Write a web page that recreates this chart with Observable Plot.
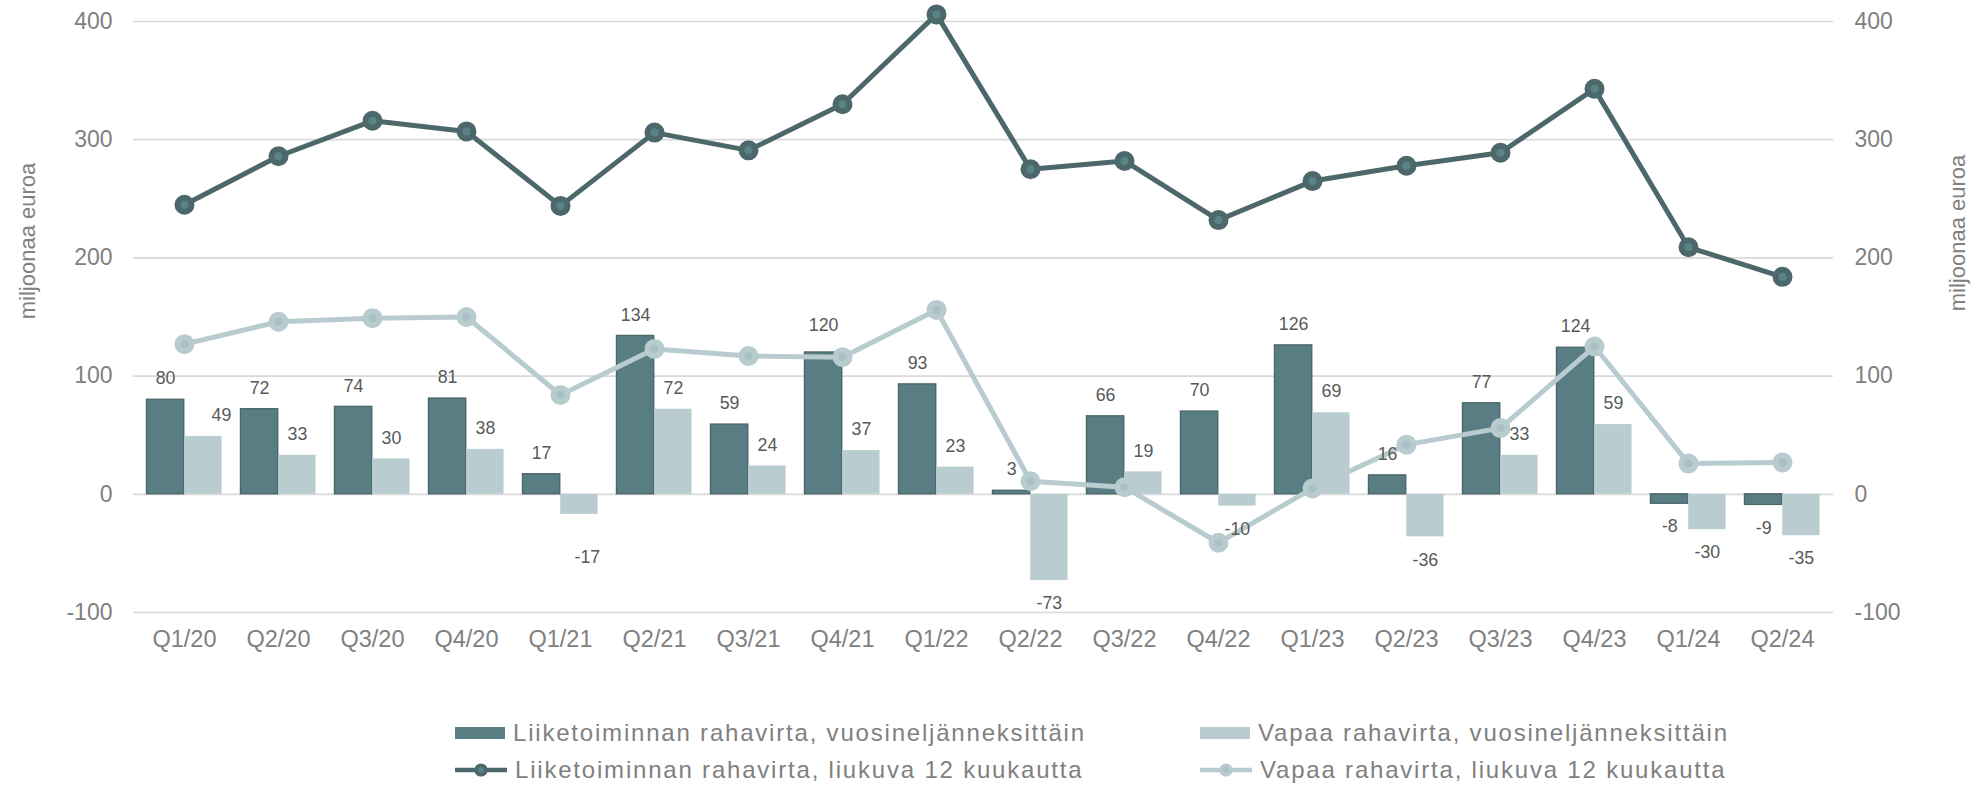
<!DOCTYPE html>
<html><head><meta charset="utf-8">
<script src="https://cdn.jsdelivr.net/npm/d3@7"></script>
<script src="https://cdn.jsdelivr.net/npm/@observablehq/plot@0.6"></script>
<style>
body{margin:0;background:#fff;}
#wrap{position:relative;width:1975px;height:788px;font-family:"Liberation Sans",Arial,sans-serif;overflow:hidden;}
.leg{position:absolute;display:flex;align-items:center;font-size:24px;letter-spacing:1.8px;color:#808080;white-space:nowrap;transform:translateY(-50%);}
.leg svg{margin-right:8px;display:block;}
</style></head><body><div id="wrap"></div>
<script>
// ---- data ----
const quarters = ["Q1/20","Q2/20","Q3/20","Q4/20","Q1/21","Q2/21","Q3/21","Q4/21","Q1/22","Q2/22","Q3/22","Q4/22","Q1/23","Q2/23","Q3/23","Q4/23","Q1/24","Q2/24"];
const operatingQuarterly = [80,72,74,81,17,134,59,120,93,3,66,70,126,16,77,124,-8,-9];
const freeQuarterly = [49,33,30,38,-17,72,24,37,23,-73,19,-10,69,-36,33,59,-30,-35];
const operatingRolling = [245,286,316,307,244,306,291,330,406,275,282,232,265,278,289,343,209,184];
const freeRolling = [127,146,149,150,84,123,117,116,156,11,6,-41,5,42,56,125,26,27];
const yTicks = [-100,0,100,200,300,400];
const seriesNames = [
  "Liiketoiminnan rahavirta, vuosineljänneksittäin",
  "Vapaa rahavirta, vuosineljänneksittäin",
  "Liiketoiminnan rahavirta, liukuva 12 kuukautta",
  "Vapaa rahavirta, liukuva 12 kuukautta"
];
const axisTitle = "miljoonaa euroa";

// ---- styles ----
const C = {
  darkBar: "#587e83", darkBarStroke: "#4a6468",
  lightBar: "#b9cdd1",
  darkLine: "#4d686b", darkDot: "#5a8388",
  lightLine: "#b8ccd0", lightDot: "#a9c0c4",
  grid: "#d9d9d9", tick: "#808080", label: "#595959"
};
const W = 1975, H = 680, mL = 133, mR = 142, mT = 21, mB = 68;
const step = (W - mL - mR) / quarters.length;

const rows = quarters.map((q, i) => ({
  q, op: operatingQuarterly[i], free: freeQuarterly[i],
  op12: operatingRolling[i], free12: freeRolling[i]
}));

// label nudges seen in the original (per quarter)
const nudge = {"Q1/20": {free: [18, 0]}, "Q1/21": {free: [8, 20]}, "Q4/21": {op: [0, -6]}};
const lab = (key, sign) => rows.filter(d => Math.sign(d[key]) === sign || (sign > 0 && d[key] === 0));

function labelMarks(key, dxBase, sign) {
  const base = sign > 0 ? -21 : 23;
  const plain = lab(key, sign).filter(d => !(nudge[d.q] && nudge[d.q][key]));
  const special = lab(key, sign).filter(d => nudge[d.q] && nudge[d.q][key]);
  const marks = [Plot.text(plain, {x: "q", y: key, text: d => String(d[key]), dx: dxBase, dy: base, fill: C.label, fontSize: 17.8})];
  for (const d of special) {
    const [ndx, ndy] = nudge[d.q][key];
    marks.push(Plot.text([d], {x: "q", y: key, text: d => String(d[key]), dx: dxBase + ndx, dy: base + ndy, fill: C.label, fontSize: 17.8}));
  }
  return marks;
}

const fmt = d => String(d);

const chart = Plot.plot({
  width: W, height: H,
  marginLeft: mL, marginRight: mR, marginTop: mT, marginBottom: mB,
  style: {fontFamily: '"Liberation Sans", Arial, sans-serif', color: C.tick, background: "#fff"},
  x: {type: "band", domain: quarters, padding: 0},
  y: {domain: [-100, 400]},
  marks: [
    Plot.gridY(yTicks, {stroke: C.grid, strokeOpacity: 1, strokeWidth: 1.7}),
    Plot.barY(rows, {x: "q", y: "op", fill: C.darkBar, stroke: C.darkBarStroke, strokeWidth: 1.3,
      insetLeft: step * 0.1, insetRight: step * 0.5}),
    Plot.barY(rows, {x: "q", y: "free", fill: C.lightBar,
      insetLeft: step * 0.5, insetRight: step * 0.1}),
    Plot.line(rows, {x: "q", y: "free12", stroke: C.lightLine, strokeWidth: 5}),
    Plot.dot(rows, {x: "q", y: "free12", r: 7, fill: C.lightDot, stroke: C.lightLine, strokeWidth: 6}),
    Plot.line(rows, {x: "q", y: "op12", stroke: C.darkLine, strokeWidth: 5}),
    Plot.dot(rows, {x: "q", y: "op12", r: 7, fill: C.darkDot, stroke: C.darkLine, strokeWidth: 6}),
    ...labelMarks("op", -step * 0.2, 1),
    ...labelMarks("op", -step * 0.2, -1),
    ...labelMarks("free", step * 0.2, 1),
    ...labelMarks("free", step * 0.2, -1),
    Plot.axisY(yTicks, {anchor: "left", tickSize: 0, tickPadding: 21, fontSize: 23, label: null, tickFormat: fmt}),
    Plot.axisY(yTicks, {anchor: "right", tickSize: 0, tickPadding: 21, fontSize: 23, label: null, tickFormat: fmt}),
    Plot.axisX({anchor: "bottom", tickSize: 0, tickPadding: 18, fontSize: 23.5, label: null}),
    Plot.text([axisTitle], {frameAnchor: "left", textAnchor: "middle", text: d => d, rotate: -90, dx: -106, dy: -76, fontSize: 22, fill: C.tick}),
    Plot.text([axisTitle], {frameAnchor: "right", textAnchor: "middle", text: d => d, rotate: -90, dx: 124, dy: -84, fontSize: 22, fill: C.tick})
  ]
});
const wrap = document.getElementById("wrap");
wrap.appendChild(chart);

// ---- legend ----
const swatch = c => `<svg width="50" height="12"><rect width="50" height="12" fill="${c}"/></svg>`;
const lineSym = (s, f) => `<svg width="52" height="18"><line x1="0" x2="52" y1="9" y2="9" stroke="${s}" stroke-width="4.5"/><circle cx="26" cy="9" r="4.8" fill="${f}" stroke="${s}" stroke-width="3.6"/></svg>`;
const items = [
  {left: 455, top: 733, sym: swatch(C.darkBar), text: seriesNames[0]},
  {left: 1200, top: 733, sym: swatch(C.lightBar), text: seriesNames[1]},
  {left: 455, top: 770, sym: lineSym(C.darkLine, C.darkDot), text: seriesNames[2]},
  {left: 1200, top: 770, sym: lineSym(C.lightLine, C.lightDot), text: seriesNames[3]}
];
for (const it of items) {
  const d = document.createElement("div");
  d.className = "leg";
  d.style.left = it.left + "px";
  d.style.top = it.top + "px";
  d.innerHTML = it.sym + "<span>" + it.text + "</span>";
  wrap.appendChild(d);
}
</script></body></html>
